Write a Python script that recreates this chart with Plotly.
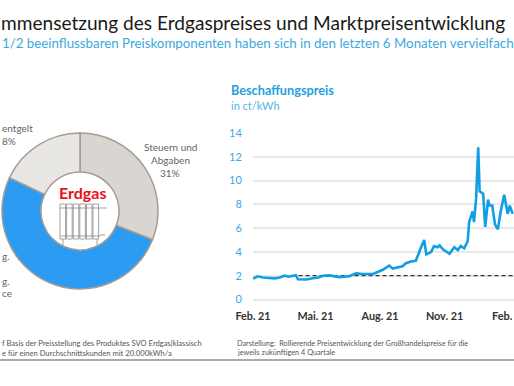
import plotly.graph_objects as go

W, H = 514, 386
dates = ["2021-02-01","2021-02-05","2021-02-08","2021-02-15","2021-02-25","2021-03-04","2021-03-11","2021-03-18","2021-03-24","2021-03-30","2021-04-03","2021-04-06","2021-04-18","2021-04-27","2021-05-05","2021-05-12","2021-05-21","2021-06-04","2021-06-18","2021-06-28","2021-07-07","2021-07-22","2021-08-05","2021-08-14","2021-08-19","2021-09-02","2021-09-07","2021-09-14","2021-09-21","2021-09-28","2021-10-03","2021-10-06","2021-10-13","2021-10-17","2021-10-22","2021-10-25","2021-10-30","2021-11-08","2021-11-15","2021-11-20","2021-11-24","2021-11-29","2021-12-04","2021-12-06","2021-12-11","2021-12-13","2021-12-16","2021-12-19","2021-12-21","2021-12-26","2021-12-29","2022-01-02","2022-01-04","2022-01-08","2022-01-12","2022-01-16","2022-01-20","2022-01-25","2022-01-30","2022-02-02","2022-02-06"]
prices = [1.75,1.85,1.95,1.85,1.8,1.78,1.85,2.0,1.92,2.0,2.05,1.7,1.68,1.78,1.85,2.0,2.03,1.88,1.95,2.2,2.15,2.15,2.5,2.85,2.6,2.8,3.05,3.2,3.25,4.3,5.0,3.8,4.0,4.5,4.4,4.55,4.2,3.85,4.4,4.15,4.5,4.3,4.9,6.5,7.4,6.5,8.5,12.8,9.1,8.9,6.1,8.4,7.9,7.9,6.3,5.9,7.4,8.8,7.2,7.9,7.2]
ref_dates = ["2021-03-28","2022-02-08"]
ref_values = [2.0,2.0]
tick_dates = ["2021-02-01","2021-05-01","2021-08-01","2021-11-01"]
tick_labels = ["Feb. 21","Mai. 21","Aug. 21","Nov. 21"]
pie_labels = ["Steuern und Abgaben","Beschaffung","Netzentgelt"]
pie_values = [31,51,18]

BLUE = "#3CA9E2"
FONT = "Lato, Carlito, sans-serif"
def fx(p): return p / W
def fy(p): return 1 - p / H

fig = go.Figure()
fig.add_trace(go.Pie(labels=pie_labels, values=pie_values, hole=0.5, sort=False, direction="clockwise",
    rotation=0, textinfo="none", hoverinfo="label+percent", showlegend=False,
    marker=dict(colors=["#D9D5D0","#2B9CF2","#E9E7E4"], line=dict(color="#A69C90", width=1.5)),
    domain=dict(x=[fx(2), fx(158)], y=[fy(289), fy(133)])))
fig.add_trace(go.Scatter(x=ref_dates, y=ref_values, mode="lines", showlegend=False,
    line=dict(color="#333333", width=1.2, dash="4px,3px"), xaxis="x", yaxis="y"))
fig.add_trace(go.Scatter(x=dates, y=prices, mode="lines", showlegend=False,
    line=dict(color="#109FE3", width=2.6), xaxis="x", yaxis="y"))

def ann(text, x, y, size, color="#555555", anchor="center", bold=False):
    fig.add_annotation(x=fx(x), y=fy(y), xref="paper", yref="paper", text=f"<b>{text}</b>" if bold else text,
        showarrow=False, xanchor=anchor, yanchor="middle", align=anchor if anchor != "center" else "center",
        font=dict(family=FONT, size=size, color=color))

ann("mmensetzung des Erdgaspreises und Marktpreisentwicklung", 507, 23, 19.1, "#1a1a1a", "right")
ann("1/2 beeinflussbaren Preiskomponenten haben sich in den letzten 6 Monaten vervielfach", 0, 43, 13.3, BLUE, "left")
ann("Beschaffungspreis", 229, 90, 12.7, "#1FA0E0", "left", True)
ann("in ct/kWh", 229, 105, 11, "#55B5E5", "left")
ann("entgelt", 0, 128, 10, "#666666", "left")
ann("8%", 0, 141, 10, "#666666", "left")
ann("Steuern und", 170, 147, 10, "#666666")
ann("Abgaben", 170, 160, 10, "#666666")
ann("31%", 170, 173, 10, "#666666")
ann("g.", 0, 256, 10, "#666666", "left")
ann("g.", 0, 281, 10, "#666666", "left")
ann("ce", 0, 293, 10, "#666666", "left")
ann("Erdgas", 82, 192, 16, "#E8101A", "center", True)
ann("Feb.", 490, 315, 11, "#333333", "left", True)
ann("f Basis der Preisstellung des Produktes SVO Erdgas|klassisch", 0, 343, 7.6, "#555555", "left")
ann("e für einen Durchschnittskunden mit 20.000kWh/a", 0, 352.5, 7.6, "#555555", "left")
ann("Darstellung:  Rollierende Preisentwicklung der Großhandelspreise für die", 235, 343, 7.3, "#555555", "left")
ann("jeweils zukünftigen 4 Quartale", 235, 352.5, 7.3, "#555555", "left")

shapes = [dict(type="line", xref="paper", yref="paper", x0=0, x1=1, y0=fy(360), y1=fy(360),
               line=dict(color="#AAAAAA", width=2))]
# radiator icon
for i in range(6):
    x0 = 60 + i * 6.6
    shapes.append(dict(type="rect", xref="paper", yref="paper", x0=fx(x0), x1=fx(x0 + 5.6), y0=fy(239), y1=fy(204),
                       fillcolor="white", line=dict(color="#8a8a8a", width=0.8)))
for seg in [(60, 100, 208), (60, 100, 236), (100, 107, 208), (100, 105, 235), (63, 63, 239), (97, 97, 239)]:
    y1 = seg[2] + 6 if seg[0] == seg[1] else seg[2]
    shapes.append(dict(type="line", xref="paper", yref="paper", x0=fx(seg[0]), x1=fx(seg[1]), y0=fy(seg[2]), y1=fy(y1),
                       line=dict(color="#8a8a8a", width=0.8)))

fig.update_layout(
    width=W, height=H, autosize=False, margin=dict(l=0, r=0, t=0, b=0, autoexpand=False),
    paper_bgcolor="white", plot_bgcolor="white", shapes=shapes,
    xaxis=dict(domain=[fx(253), 1], range=["2021-02-01", "2022-02-08"], type="date",
        tickmode="array", tickvals=tick_dates, ticktext=tick_labels, showgrid=False, zeroline=False, showline=False,
        ticks="outside", ticklen=7, tickcolor="rgba(0,0,0,0)", tickangle=0,
        tickfont=dict(family=FONT, size=10.8, color="#333333", weight="bold"), anchor="y"),
    yaxis=dict(domain=[fy(299.5), fy(133)], range=[0, 14], tickvals=[0,2,4,6,8,10,12,14],
        showgrid=True, gridcolor="#E8E8E8", gridwidth=1.5, zeroline=True, zerolinecolor="#E8E8E8", zerolinewidth=1.5,
        ticks="outside", ticklen=8, tickcolor="rgba(0,0,0,0)",
        tickfont=dict(family=FONT, size=11, color=BLUE), anchor="x"),
)
fig.write_html("out.html", config=dict(displayModeBar=False),
               post_script="document.body.style.margin='0';document.body.style.overflow='hidden';")
